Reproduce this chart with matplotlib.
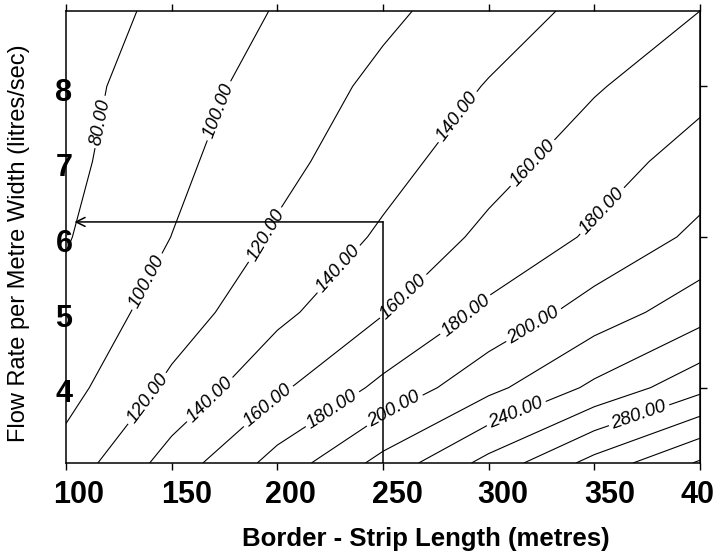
import numpy as np
import matplotlib
matplotlib.use('Agg')
from matplotlib import pyplot as plt
from matplotlib.transforms import ScaledTranslation

plt.rcParams['font.family'] = ['Liberation Sans', 'DejaVu Sans']

# grid nodes: border strip length (m) and flow rate (l/s per m width)
strip_length = [100, 150, 200, 250, 300, 350, 400]
flow_rate = [3, 4, 5, 6, 7, 8, 9]
# contour value at each node, one row per flow rate
z_flow3 = [107.7, 148.5, 187.4, 226.5, 266.5, 307.0, 342.5]
z_flow4 = [93.0, 124.7, 156.3, 184.7, 214.4, 244.1, 274.0]
z_flow5 = [85.0, 109.5, 134.9, 158.9, 184.2, 209.1, 231.6]
z_flow6 = [78.7, 100.2, 122.6, 143.0, 164.9, 182.9, 204.8]
z_flow7 = [75.0, 95.0, 114.2, 132.6, 151.8, 170.9, 188.5]
z_flow8 = [73.2, 90.8, 108.1, 124.8, 141.2, 158.1, 174.0]
z_flow9 = [69.2, 85.3, 101.3, 115.9, 130.7, 145.3, 160.0]
levels = [80, 100, 120, 140, 160, 180, 200, 220, 240, 260, 280, 300, 320, 340]

# where the contour labels sit (length, flow)
label_pos = [(115.6, 7.53), (171, 7.69), (128.9, 5.55), (194.2, 6.03), (138.3, 3.86),
             (284.1, 7.62), (232, 5.5), (168.1, 3.84), (320.1, 7.0), (260, 5.2),
             (195.6, 3.76), (353.2, 6.36), (289.8, 4.94), (226.4, 3.7), (321.5, 4.82),
             (256.2, 3.66), (313.9, 3.6), (371.6, 3.6)]

# worked example read on the chart
example_length = 250
example_flow = 6.2
arrow_end = 104

xticks = [100, 150, 200, 250, 300, 350, 400]
yticks = [4, 5, 6, 7, 8]

Z = np.array([z_flow3, z_flow4, z_flow5, z_flow6, z_flow7, z_flow8, z_flow9])
X, Y = np.meshgrid(strip_length, flow_rate)

fig = plt.figure(figsize=(7.15, 5.54), dpi=100)
ax = fig.add_axes([66/715, 91/554, 634/715, 452/554])

cs = ax.contour(X, Y, Z, levels=levels, colors='black', linewidths=0.8)
labels = ax.clabel(cs, fmt='%.2f', manual=label_pos, inline=True, inline_spacing=3, fontsize=13.5)
for t in labels:
    t.set_fontstyle('italic')

ax.plot([example_length, example_length], [3, example_flow], color='black', lw=1.1)
ax.annotate('', xy=(arrow_end, example_flow), xytext=(example_length, example_flow),
            arrowprops=dict(arrowstyle='->', color='black', lw=1.1, mutation_scale=16,
                            shrinkA=0, shrinkB=0))

ax.set_xlim(100, 400)
ax.set_ylim(3, 9)
ax.set_xticks(xticks)
ax.set_xticklabels([str(v) for v in xticks], fontsize=22, fontweight='bold')
ax.set_yticks(yticks)
ax.set_yticklabels([str(v) for v in yticks], fontsize=22, fontweight='bold', ha='center')
ax.tick_params(axis='x', direction='out', length=5, width=1, pad=7, top=True)
ax.tick_params(axis='y', length=0, pad=1.5)
for sp in ax.spines.values():
    sp.set_linewidth(1.1)

# scanned original has the x labels sitting a bit right of the ticks
shifts = [13, 15, 13, 14, 14, 15, 6]
for lab, s in zip(ax.get_xticklabels(), shifts):
    lab.set_transform(lab.get_transform() + ScaledTranslation(s/100, 0, fig.dpi_scale_trans))
for lab in ax.get_yticklabels():
    lab.set_transform(lab.get_transform() + ScaledTranslation(0, -3/100, fig.dpi_scale_trans))

right = ax.secondary_yaxis('right')
right.set_yticks([4, 6, 8])
right.set_yticklabels([])
right.tick_params(direction='out', length=5, width=1)

fig.text(426/715, 1 - 546/554, 'Border - Strip Length (metres)', fontsize=18.5,
         fontweight='bold', ha='center', va='baseline')
fig.text(25/715, 1 - 243/554, 'Flow Rate per Metre Width (litres/sec)', fontsize=17,
         rotation=90, rotation_mode='anchor', ha='center', va='baseline')

fig.savefig('out.png', dpi=100)
